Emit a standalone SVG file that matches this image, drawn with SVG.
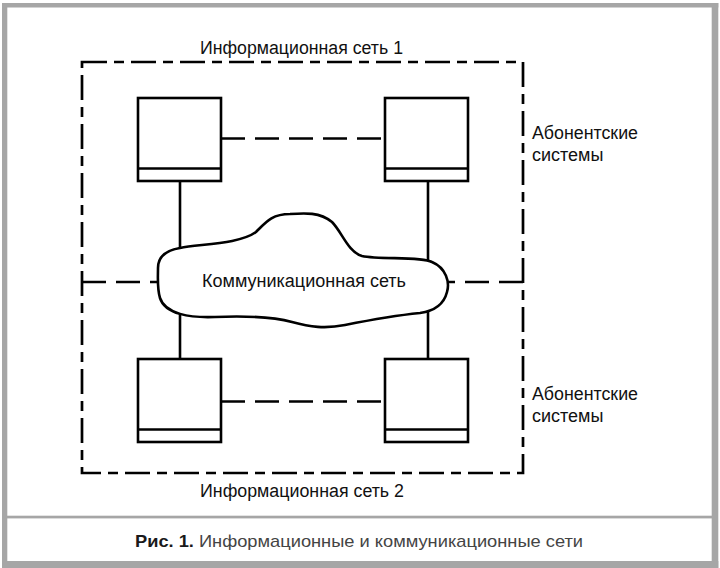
<svg xmlns="http://www.w3.org/2000/svg" width="720" height="568" viewBox="0 0 720 568">
<style>
.frame{fill:#a6a6a6}
.lbl{font-family:"Liberation Sans","DejaVu Sans",sans-serif;font-size:18px;fill:#111}
.box{fill:#fff;stroke:#000;stroke-width:2.6}
.solid{stroke:#000;stroke-width:2.6;fill:none}
.dash{stroke:#000;stroke-width:2.6;fill:none;stroke-dasharray:24 10}
.border{stroke:#000;stroke-width:2.7;fill:none;stroke-dasharray:25 7 10 7}
</style>
<rect width="720" height="568" fill="#fff"/>
<g id="frame">
<rect class="frame" x="2" y="3" width="716.3" height="4.5"/>
<rect class="frame" x="2" y="3" width="5.3" height="565"/>
<rect class="frame" x="711.7" y="3" width="6.6" height="565"/>
<rect class="frame" x="2" y="561" width="716.3" height="7"/>
<rect class="frame" x="7" y="515.7" width="705" height="2.7"/>
</g>
<g id="net-boundary">
<path class="border" d="M82,62 H523 V473 H82 Z"/>
</g>
<g id="connectors">
<line class="solid" x1="180" y1="181" x2="180" y2="250"/>
<line class="solid" x1="180" y1="310" x2="180" y2="359"/>
<line class="solid" x1="428" y1="181" x2="428" y2="262"/>
<line class="solid" x1="428" y1="310" x2="428" y2="359"/>
<line class="dash" x1="221" y1="138.5" x2="385" y2="138.5"/>
<line class="dash" x1="221" y1="401.5" x2="385" y2="401.5"/>
<line class="dash" x1="82" y1="282" x2="158" y2="282"/>
<line class="dash" x1="523" y1="282" x2="447" y2="282"/>
</g>
<g id="cloud">
<path class="solid" fill="#fff" style="fill:#fff" d="M158,268 C158,255 168,250 180,248 C200,244 240,244 256,232 C266,222 272,214 290,214 C305,213 320,212 332,222 C342,232 348,252 362,256 C380,260 420,256 432,262 C446,268 450,282 447,292 C444,304 434,311 420,313 C390,316 370,320 345,325 C325,329 310,327 292,322 C270,316 240,316 215,317 C190,318 165,314 160,298 C157,288 158,278 158,268 Z"/>
<text class="lbl" x="202" y="287" textLength="204" lengthAdjust="spacingAndGlyphs">Коммуникационная сеть</text>
</g>
<g id="as-top-left">
<rect class="box" x="138" y="98" width="83" height="83"/>
<line class="solid" x1="138" y1="168.5" x2="221" y2="168.5"/>
</g>
<g id="as-top-right">
<rect class="box" x="385" y="98" width="83" height="83"/>
<line class="solid" x1="385" y1="168.5" x2="468" y2="168.5"/>
</g>
<g id="as-bottom-left">
<rect class="box" x="138" y="359" width="83" height="83"/>
<line class="solid" x1="138" y1="429.5" x2="221" y2="429.5"/>
</g>
<g id="as-bottom-right">
<rect class="box" x="385" y="359" width="83" height="83"/>
<line class="solid" x1="385" y1="429.5" x2="468" y2="429.5"/>
</g>
<g id="labels">
<text class="lbl" x="200" y="54" textLength="203" lengthAdjust="spacingAndGlyphs">Информационная сеть 1</text>
<text class="lbl" x="200" y="497" textLength="204" lengthAdjust="spacingAndGlyphs">Информационная сеть 2</text>
<text class="lbl" x="532" y="139" textLength="106" lengthAdjust="spacingAndGlyphs">Абонентские</text>
<text class="lbl" x="532" y="161">системы</text>
<text class="lbl" x="532" y="400" textLength="106" lengthAdjust="spacingAndGlyphs">Абонентские</text>
<text class="lbl" x="532" y="422">системы</text>
</g>
<g id="caption">
<text x="135" y="547" textLength="448" lengthAdjust="spacingAndGlyphs" style="font-family:'Liberation Sans',Arial,sans-serif;font-size:17px;fill:#444"><tspan font-weight="bold" fill="#1a1a1a">Рис. 1.</tspan> Информационные и коммуникационные сети</text>
</g>
</svg>
